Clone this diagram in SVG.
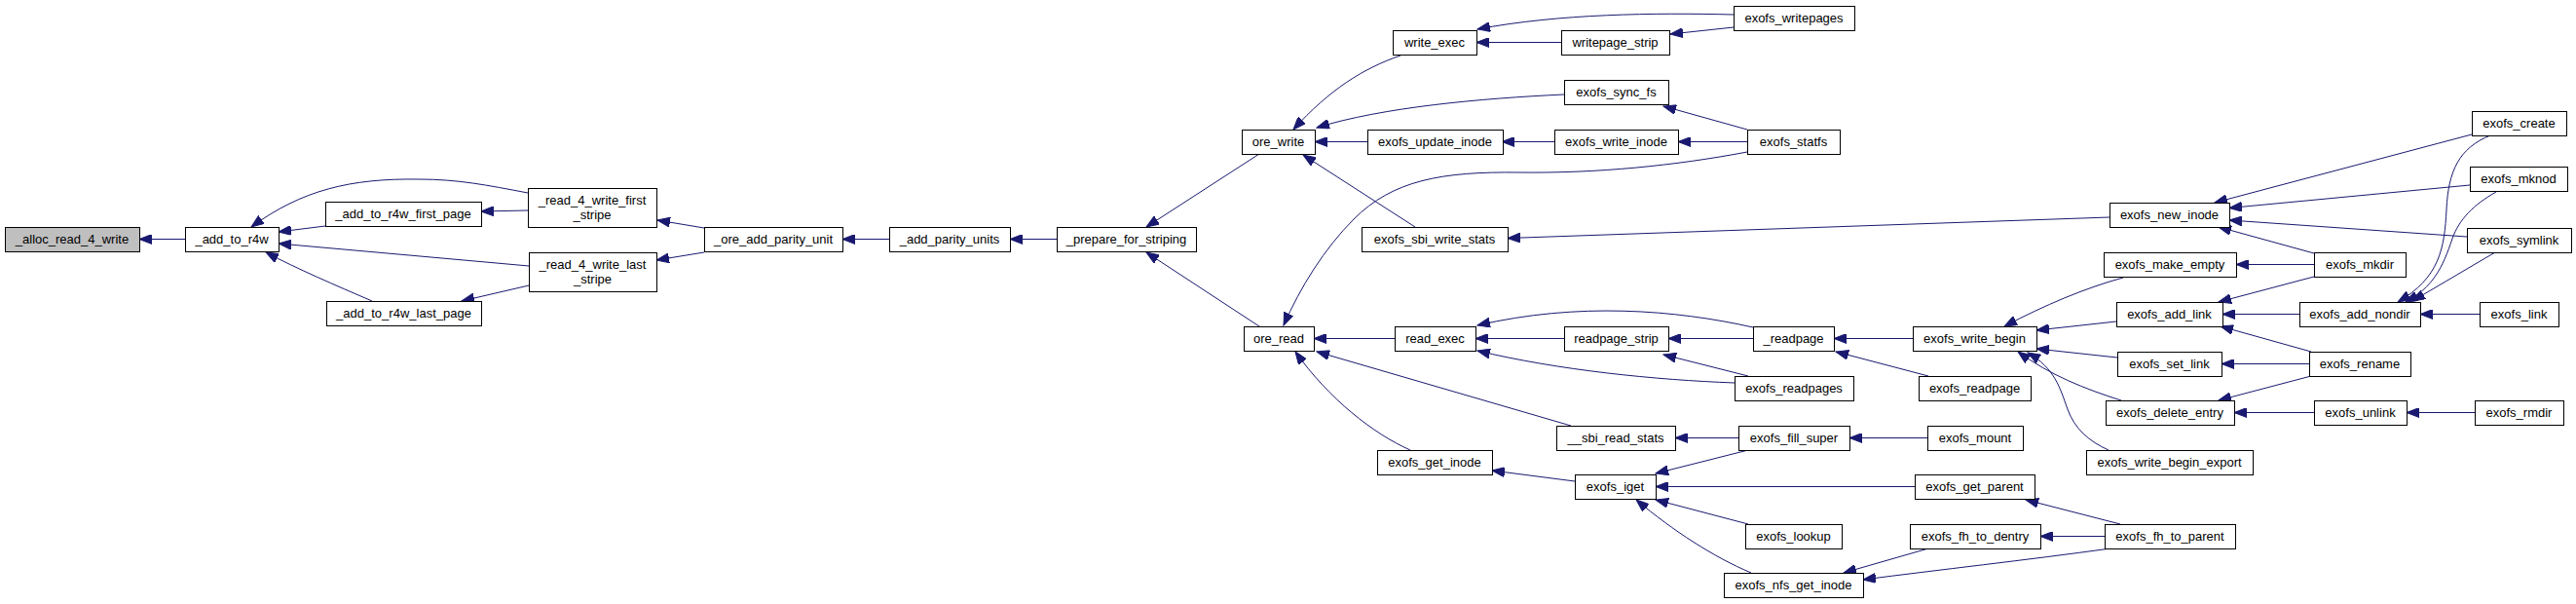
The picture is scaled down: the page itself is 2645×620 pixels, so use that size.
<svg xmlns="http://www.w3.org/2000/svg" width="2645" height="620" viewBox="0 0 2645 620">
<style>
rect{fill:#fff;stroke:#000;stroke-width:1}
rect.main{fill:#bfbfbf}
text{font-family:"Liberation Sans",Arial,sans-serif;font-size:13px;text-anchor:middle;fill:#000}
#edges path{fill:none;stroke:#191970;stroke-width:1;marker-end:url(#ah)}
</style>
<defs>
<marker id="ah" markerUnits="userSpaceOnUse" markerWidth="14" markerHeight="10" refX="13" refY="5" orient="auto">
<path d="M0,0 L13,5 L0,10 z" fill="#191970" stroke="#191970" stroke-width="1"/>
</marker>
</defs>
<rect x="0" y="0" width="2645" height="620" style="fill:#fff;stroke:none"/>
<g id="edges">
<path d="M190,245.5 L143,245.5"/>
<path d="M542,198 C500,190 470,184 430,184 C360,183 310,195 258,233"/>
<path d="M334,232 L286,238"/>
<path d="M543,273 L286,250"/>
<path d="M382,309 C345,293 305,276 273,259"/>
<path d="M542,216 L494,217"/>
<path d="M543,293 L474,309"/>
<path d="M723,234 L675,226"/>
<path d="M723,259 L674,267"/>
<path d="M913,245.5 L865,245.5"/>
<path d="M1085,245.5 L1037,245.5"/>
<path d="M1293,158 L1177,233"/>
<path d="M1293,335 L1177,259"/>
<path d="M1438,57 C1400,70 1365,92 1328,133"/>
<path d="M1606,97 C1520,101 1420,110 1352,131"/>
<path d="M1404,145.5 L1350,145.5"/>
<path d="M1453,233 L1338,159"/>
<path d="M1603,43.5 L1516,43.5"/>
<path d="M1780,15 C1700,13 1600,14 1517,30"/>
<path d="M1780,28 L1715,35"/>
<path d="M1794,133 L1708,109"/>
<path d="M1596,145.5 L1542,145.5"/>
<path d="M1794,145.5 L1723,145.5"/>
<path d="M1794,156 C1720,170 1640,178 1560,177 C1480,176 1430,185 1390,225 C1360,255 1335,295 1318,334"/>
<path d="M1432,347.5 L1349,347.5"/>
<path d="M1613,437 L1352,361"/>
<path d="M1448,462 C1410,445 1365,410 1330,361"/>
<path d="M2166,223 L1548,244.5"/>
<path d="M1800,336 C1720,318 1620,310 1517,334"/>
<path d="M1606,347.5 L1515,347.5"/>
<path d="M1781,393 C1700,390 1600,380 1517,360"/>
<path d="M1800,347.5 L1713,347.5"/>
<path d="M1795,386 L1708,364"/>
<path d="M1964,347.5 L1883,347.5"/>
<path d="M1980,386 L1885,361"/>
<path d="M2180,285 C2140,296 2100,313 2058,335"/>
<path d="M2173,330 L2091,339"/>
<path d="M2174,367 L2091,358"/>
<path d="M2178,411 C2140,399 2105,385 2072,361"/>
<path d="M2165,462 C2145,453 2130,440 2123,420 C2115,398 2110,378 2082,362"/>
<path d="M1785,449.5 L1720,449.5"/>
<path d="M1979,449.5 L1899,449.5"/>
<path d="M1617,494 L1532,483"/>
<path d="M1795,462 L1700,486"/>
<path d="M1966,499.5 L1700,499.5"/>
<path d="M1795,538 L1700,513"/>
<path d="M1798,588 C1760,572 1718,545 1680,513"/>
<path d="M2177,538 L2080,513"/>
<path d="M2161,550.5 L2095,550.5"/>
<path d="M1980,563 L1893,588"/>
<path d="M2167,563 C2080,575 1990,585 1913,595"/>
<path d="M2538,138 L2274,208"/>
<path d="M2536,190 L2289,213.5"/>
<path d="M2533,243 L2289,226"/>
<path d="M2376,260 L2278,233"/>
<path d="M2376,271.5 L2296,271.5"/>
<path d="M2376,284 L2278,310"/>
<path d="M2361,322.5 L2282,322.5"/>
<path d="M2373,361 L2280,335"/>
<path d="M2371,373.5 L2281,373.5"/>
<path d="M2373,386 L2278,411"/>
<path d="M2376,423.5 L2294,423.5"/>
<path d="M2541,423.5 L2471,423.5"/>
<path d="M2546,322.5 L2485,322.5"/>
<path d="M2557,139 C2525,152 2514,175 2512,215 C2510,255 2505,285 2462,310"/>
<path d="M2563,197 C2540,210 2525,225 2518,245 C2508,275 2498,295 2470,310"/>
<path d="M2562,259 L2477,309"/>
</g>
<g id="n_alloc_read_4_write"><rect class="main" x="5.5" y="233.5" width="138" height="25"/><text x="74" y="250">_alloc_read_4_write</text></g>
<g id="n_add_to_r4w"><rect x="190.5" y="233.5" width="96" height="25"/><text x="238" y="250">_add_to_r4w</text></g>
<g id="n_add_to_r4w_first_page"><rect x="334.5" y="207.5" width="160" height="25"/><text x="414" y="224">_add_to_r4w_first_page</text></g>
<g id="n_add_to_r4w_last_page"><rect x="335.5" y="309.5" width="159" height="25"/><text x="414.5" y="326">_add_to_r4w_last_page</text></g>
<g id="n_read_4_write_first_stripe"><rect x="542.5" y="193.5" width="132" height="40"/><text x="608" y="209.5">_read_4_write_first</text><text x="608" y="224.5">_stripe</text></g>
<g id="n_read_4_write_last_stripe"><rect x="543.5" y="259.5" width="131" height="40"/><text x="608.5" y="275.5">_read_4_write_last</text><text x="608.5" y="290.5">_stripe</text></g>
<g id="n_ore_add_parity_unit"><rect x="723.5" y="233.5" width="142" height="25"/><text x="794" y="250">_ore_add_parity_unit</text></g>
<g id="n_add_parity_units"><rect x="913.5" y="233.5" width="124" height="25"/><text x="975" y="250">_add_parity_units</text></g>
<g id="n_prepare_for_striping"><rect x="1085.5" y="233.5" width="143" height="25"/><text x="1156.5" y="250">_prepare_for_striping</text></g>
<g id="n_ore_write"><rect x="1275.5" y="133.5" width="75" height="25"/><text x="1312.5" y="150">ore_write</text></g>
<g id="n_ore_read"><rect x="1277.5" y="335.5" width="72" height="25"/><text x="1313" y="352">ore_read</text></g>
<g id="n_write_exec"><rect x="1430.5" y="31.5" width="86" height="25"/><text x="1473" y="48">write_exec</text></g>
<g id="n_writepage_strip"><rect x="1603.5" y="31.5" width="111" height="25"/><text x="1658.5" y="48">writepage_strip</text></g>
<g id="n_exofs_sync_fs"><rect x="1606.5" y="82.5" width="107" height="25"/><text x="1659.5" y="99">exofs_sync_fs</text></g>
<g id="n_exofs_update_inode"><rect x="1404.5" y="133.5" width="139" height="25"/><text x="1473.5" y="150">exofs_update_inode</text></g>
<g id="n_exofs_write_inode"><rect x="1596.5" y="133.5" width="127" height="25"/><text x="1659.5" y="150">exofs_write_inode</text></g>
<g id="n_exofs_sbi_write_stats"><rect x="1398.5" y="233.5" width="150" height="25"/><text x="1473" y="250">exofs_sbi_write_stats</text></g>
<g id="n_read_exec"><rect x="1432.5" y="335.5" width="83" height="25"/><text x="1473.5" y="352">read_exec</text></g>
<g id="n_readpage_strip"><rect x="1606.5" y="335.5" width="107" height="25"/><text x="1659.5" y="352">readpage_strip</text></g>
<g id="n_sbi_read_stats"><rect x="1598.5" y="437.5" width="122" height="25"/><text x="1659" y="454">__sbi_read_stats</text></g>
<g id="n_exofs_get_inode"><rect x="1414.5" y="462.5" width="118" height="25"/><text x="1473" y="479">exofs_get_inode</text></g>
<g id="n_exofs_iget"><rect x="1617.5" y="487.5" width="83" height="25"/><text x="1658.5" y="504">exofs_iget</text></g>
<g id="n_exofs_writepages"><rect x="1780.5" y="6.5" width="124" height="25"/><text x="1842" y="23">exofs_writepages</text></g>
<g id="n_exofs_statfs"><rect x="1794.5" y="133.5" width="95" height="25"/><text x="1841.5" y="150">exofs_statfs</text></g>
<g id="n_exofs_new_inode"><rect x="2166.5" y="208.5" width="123" height="25"/><text x="2227.5" y="225">exofs_new_inode</text></g>
<g id="n_exofs_make_empty"><rect x="2160.5" y="259.5" width="136" height="25"/><text x="2228" y="276">exofs_make_empty</text></g>
<g id="n_exofs_add_link"><rect x="2173.5" y="310.5" width="109" height="25"/><text x="2227.5" y="327">exofs_add_link</text></g>
<g id="n_exofs_set_link"><rect x="2174.5" y="361.5" width="107" height="25"/><text x="2227.5" y="378">exofs_set_link</text></g>
<g id="n_exofs_delete_entry"><rect x="2162.5" y="411.5" width="132" height="25"/><text x="2228" y="428">exofs_delete_entry</text></g>
<g id="n_exofs_write_begin_export"><rect x="2142.5" y="462.5" width="171" height="25"/><text x="2227.5" y="479">exofs_write_begin_export</text></g>
<g id="n_readpage"><rect x="1800.5" y="335.5" width="83" height="25"/><text x="1841.5" y="352">_readpage</text></g>
<g id="n_exofs_write_begin"><rect x="1964.5" y="335.5" width="127" height="25"/><text x="2027.5" y="352">exofs_write_begin</text></g>
<g id="n_exofs_readpages"><rect x="1781.5" y="386.5" width="122" height="25"/><text x="1842" y="403">exofs_readpages</text></g>
<g id="n_exofs_readpage"><rect x="1970.5" y="386.5" width="115" height="25"/><text x="2027.5" y="403">exofs_readpage</text></g>
<g id="n_exofs_fill_super"><rect x="1785.5" y="437.5" width="114" height="25"/><text x="1842" y="454">exofs_fill_super</text></g>
<g id="n_exofs_mount"><rect x="1979.5" y="437.5" width="98" height="25"/><text x="2028" y="454">exofs_mount</text></g>
<g id="n_exofs_get_parent"><rect x="1966.5" y="487.5" width="123" height="25"/><text x="2027.5" y="504">exofs_get_parent</text></g>
<g id="n_exofs_lookup"><rect x="1792.5" y="538.5" width="99" height="25"/><text x="1841.5" y="555">exofs_lookup</text></g>
<g id="n_exofs_fh_to_dentry"><rect x="1961.5" y="538.5" width="134" height="25"/><text x="2028" y="555">exofs_fh_to_dentry</text></g>
<g id="n_exofs_fh_to_parent"><rect x="2161.5" y="538.5" width="134" height="25"/><text x="2228" y="555">exofs_fh_to_parent</text></g>
<g id="n_exofs_nfs_get_inode"><rect x="1770.5" y="588.5" width="143" height="25"/><text x="1841.5" y="605">exofs_nfs_get_inode</text></g>
<g id="n_exofs_create"><rect x="2538.5" y="114.5" width="97" height="25"/><text x="2586.5" y="131">exofs_create</text></g>
<g id="n_exofs_mknod"><rect x="2536.5" y="171.5" width="100" height="25"/><text x="2586" y="188">exofs_mknod</text></g>
<g id="n_exofs_symlink"><rect x="2533.5" y="234.5" width="107" height="25"/><text x="2586.5" y="251">exofs_symlink</text></g>
<g id="n_exofs_mkdir"><rect x="2376.5" y="259.5" width="94" height="25"/><text x="2423" y="276">exofs_mkdir</text></g>
<g id="n_exofs_add_nondir"><rect x="2361.5" y="310.5" width="124" height="25"/><text x="2423" y="327">exofs_add_nondir</text></g>
<g id="n_exofs_link"><rect x="2546.5" y="310.5" width="81" height="25"/><text x="2586.5" y="327">exofs_link</text></g>
<g id="n_exofs_rename"><rect x="2371.5" y="361.5" width="104" height="25"/><text x="2423" y="378">exofs_rename</text></g>
<g id="n_exofs_unlink"><rect x="2376.5" y="411.5" width="95" height="25"/><text x="2423.5" y="428">exofs_unlink</text></g>
<g id="n_exofs_rmdir"><rect x="2541.5" y="411.5" width="91" height="25"/><text x="2586.5" y="428">exofs_rmdir</text></g>
</svg>
